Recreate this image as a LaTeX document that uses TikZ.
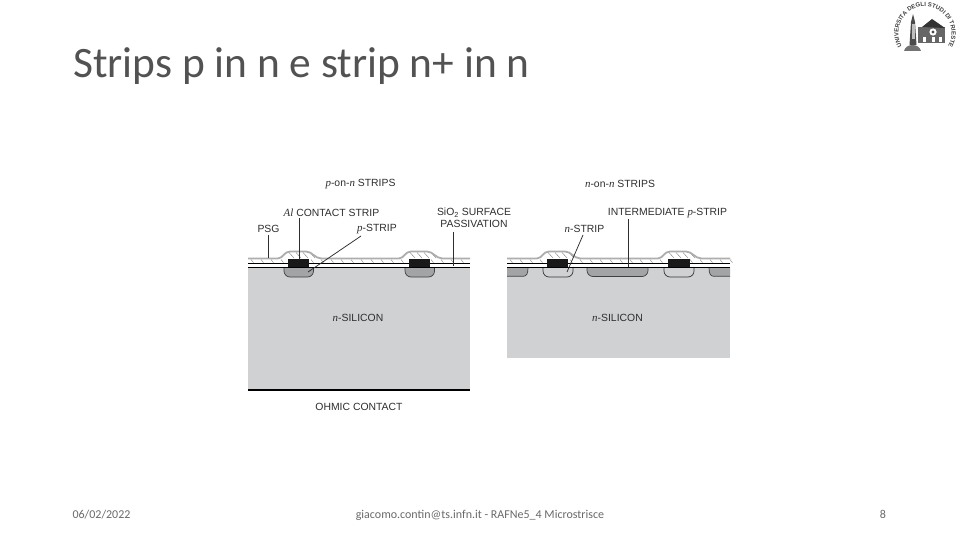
\documentclass[tikz,border=0pt]{standalone}
\usepackage{fontspec}
\setmainfont{Liberation Sans}
\newfontfamily\slidefont{Carlito}
\newfontfamily\itfont[Scale=1.05]{Liberation Serif}
\usetikzlibrary{decorations.text}
\definecolor{si}{HTML}{D0D1D3}
\definecolor{doped}{HTML}{A3A4A6}
\definecolor{ink}{HTML}{2E2E2E}
\definecolor{foot}{HTML}{6A6A6A}
\newcommand{\va}[1]{{\itfont\itshape #1}}
\newcommand{\psglayer}[3]{% x0, x1, list of bump starts
  \fill[white] (#1,258) -- (#2,258) -- (#2,263.5) -- (#1,263.5) -- cycle;
  \foreach \b in {#3}{
    \fill[white] (\b,258) .. controls (\b+5,258) and (\b+6,251.5) .. (\b+12,251.5) -- (\b+28,251.5) .. controls (\b+34,251.5) and (\b+37,258) .. (\b+43,258) -- cycle;
  }
  \foreach \x in {#1,...,#2}{
    \pgfmathparse{int(mod(\x-#1,10))}
    \ifnum\pgfmathresult=3 \draw[hatchline] (\x,259.5) -- (\x+2.5,262.7); \fi
  }
  \foreach \b in {#3}{
    \foreach \d in {11,18,25,32}{\draw[hatchline] (\b+\d,252.5) -- (\b+\d+5,258);}
  }
  \draw[psgtop] (#1,258.4)
    \foreach \b in {#3}{ -- (\b,258.4) .. controls (\b+5,258.4) and (\b+6,251.5) .. (\b+12,251.5) -- (\b+28,251.5) .. controls (\b+34,251.5) and (\b+37,258.4) .. (\b+43,258.4) }
    -- (#2,258.4);
}
\tikzset{
  x=1pt,y=-1pt,
  lbl/.style={font=\fontsize{10.4}{11.5}\selectfont,text=ink,inner sep=0pt,align=center},
  foottext/.style={font=\slidefont\fontsize{12}{14}\selectfont,text=foot,inner sep=0pt,anchor=base},
  title/.style={font=\slidefont\fontsize{43.4}{48}\selectfont,text=black!68,inner sep=0pt,anchor=base west},
  silicon/.style={fill=si,draw=none},
  oxline/.style={draw=black,line width=1pt},
  hatchline/.style={draw=black!50,line width=0.4pt},
  psgtop/.style={draw=black!32,line width=1.8pt},
  leader/.style={draw=ink,line width=0.75pt},
  metal/.style={fill=black!90,draw=none},
  implantdark/.style={fill=doped,draw=black!75,line width=0.7pt,rounded corners=6pt},
  implantlight/.style={fill=si,draw=black!80,line width=0.7pt,rounded corners=6pt},
  edgefill/.style={fill=doped,draw=none},
  edgeline/.style={draw=black!75,line width=0.7pt},
}
\begin{document}
\begin{tikzpicture}
\useasboundingbox (0,0) rectangle (960,540);
\fill[white] (0,0) rectangle (960,540);

% title and footer
\node[title] (ttl) at (73,77.5) {Strips p in n e strip n+ in n};
\node[foottext] (date) at (101.5,518.5) {06/02/2022};
\node[foottext] (auth) at (480,518.5) {giacomo.contin@ts.infn.it - RAFNe5\_4 Microstrisce};
\node[foottext] (page) at (883,518.5) {8};

% left device
\fill[silicon] (248,267) rectangle (470,389);
\psglayer{248}{470}{278,399}
\draw[implantdark] (284,267) -- (284,277) -- (313.5,277) -- (313.5,267);
\draw[implantdark] (405,267) -- (405,277) -- (434.5,277) -- (434.5,267);
\draw[oxline] (248,263.5) -- (470,263.5);
\draw[oxline] (248,267.3) -- (470,267.3);
\fill[metal] (288,259) rectangle (309,267);
\fill[metal] (409,259) rectangle (430,267);
\draw[draw=black,line width=1.8pt] (248,389.7) -- (470,389.7);

% right device
\fill[silicon] (507,267) rectangle (730,358);
\psglayer{507}{730}{537,658}
\fill[edgefill] (507,267.5) -- (528,267.5) .. controls (528,274) and (526.5,276.2) .. (523.5,276.2) -- (507,276.2) -- cycle;
\fill[edgefill] (730,267.5) -- (709,267.5) .. controls (709,274) and (710.5,276.2) .. (713.5,276.2) -- (730,276.2) -- cycle;
\draw[edgeline] (507,276.2) -- (523.5,276.2) .. controls (526.5,276.2) and (528,274) .. (528,267.5);
\draw[edgeline] (730,276.2) -- (713.5,276.2) .. controls (710.5,276.2) and (709,274) .. (709,267.5);
\draw[implantlight] (543,267) -- (543,277) -- (573,277) -- (573,267);
\draw[implantlight] (664,267) -- (664,277) -- (694,277) -- (694,267);
\draw[implantdark] (587,267) -- (587,276.5) -- (648,276.5) -- (648,267);
\draw[oxline] (507,263.5) -- (730,263.5);
\draw[oxline] (507,267.3) -- (730,267.3);
\fill[metal] (547,259) rectangle (568,267);
\fill[metal] (668,259) rectangle (690,267);

% labels
\node[lbl] (t1) at (360.5,183.7) {\va{p}-on-\va{n} STRIPS};
\node[lbl] (t2) at (620,183.7) {\va{n}-on-\va{n} STRIPS};
\node[lbl] (al) at (331.5,212.7) {\va{Al} CONTACT STRIP};
\node[lbl] (psg) at (268.5,228.7) {PSG};
\node[lbl] (pstrip) at (377,228.7) {\va{p}-STRIP};
\node[lbl] (sio) at (474,218) {SiO\textsubscript{2} SURFACE\\PASSIVATION};
\node[lbl] (inter) at (667.5,212.7) {INTERMEDIATE \va{p}-STRIP};
\node[lbl] (nstrip) at (584.5,228.7) {\va{n}-STRIP};
\node[lbl] (ns1) at (358,317.7) {\va{n}-SILICON};
\node[lbl] (ns2) at (617.5,317.7) {\va{n}-SILICON};
\node[lbl] (ohm) at (359,406.7) {OHMIC CONTACT};

% leader ends
\coordinate (eal) at (299,259.5);
\coordinate (sal) at (299,218);
\coordinate (epsg) at (268.5,258);
\coordinate (spsg) at (268.5,235);
\coordinate (ep) at (308,272);
\coordinate (sp) at (361,236);
\coordinate (esio) at (453,266);
\coordinate (ssio) at (453,232);
\coordinate (en) at (567,272);
\coordinate (sn) at (583,235);
\coordinate (ein) at (628,267);
\coordinate (sin) at (628,219);
\draw[leader] (sal) -- (eal);
\draw[leader] (spsg) -- (epsg);
\draw[leader] (sp) -- (ep);
\draw[leader] (ssio) -- (esio);
\draw[leader] (sn) -- (en);
\draw[leader] (sin) -- (ein);

% logo
\begin{scope}[shift={(925,33)},y=1pt]
  \path[postaction={decorate},decoration={text along path,text align=center,
    text={|\fontsize{6}{7}\selectfont\bfseries\color{black!75}|UNIVERSITA DEGLI STUDI DI TRIESTE}}]
    (-125:26.5) arc[start angle=235,end angle=-55,radius=26.5];
  % tower
  \fill[black!70] (-15.5,-12) -- (-14,11) -- (-12,19) -- (-10,11) -- (-8.5,-12) -- cycle;
  \fill[black!25] (-13.5,9) rectangle (-10.5,-6);
  \fill[black!55] (-21,-18) .. controls (-19,-10) and (-6,-10) .. (-4,-18) -- cycle;
  % building
  \fill[black!60] (-7,-10) rectangle (20,6);
  \fill[black!80] (-3,6) -- (7,14) -- (20,5) -- cycle;
  \fill[white] (8,1) circle (3.6);
  \fill[black!70] (8,1) circle (1.7);
  \fill[white] (-2,-9) rectangle (1,-4);
  \fill[white] (6.5,-9) rectangle (9.5,-4);
  \fill[white] (14,-9) rectangle (17,-4);
\end{scope}
\end{tikzpicture}
\end{document}
